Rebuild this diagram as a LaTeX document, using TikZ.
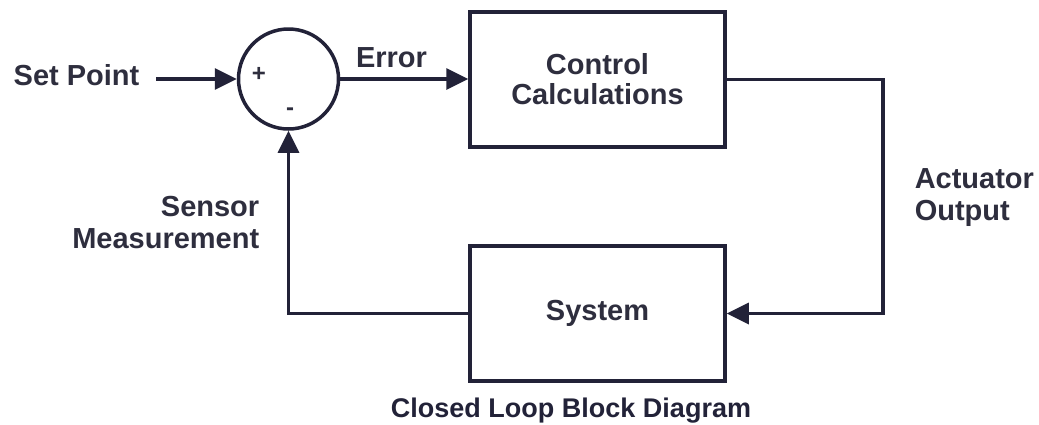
\documentclass[tikz,border=0pt]{standalone}
\usepackage{fontspec}
\setmainfont{Liberation Sans}
\usepackage{tikz}
\usetikzlibrary{positioning,arrows.meta}
\definecolor{ink}{RGB}{34,34,56}
\definecolor{labeltext}{RGB}{46,46,62}

\begin{document}
\begin{tikzpicture}[x=1pt,y=-1pt,line width=3.5pt,>={Triangle[length=22pt,width=21pt]}]
        \tikzstyle{block}=[rectangle,draw=ink,line width=3.5pt,minimum width=255pt,minimum height=135pt,align=center,text=labeltext,font=\fontsize{29}{30}\selectfont\bfseries]
        \tikzstyle{sumjunction}=[circle,draw=ink,line width=3.5pt,minimum size=100pt,inner sep=0pt]
        \tikzstyle{sig}=[inner sep=0pt,text=labeltext,font=\fontsize{29}{32}\selectfont\bfseries]
        \tikzstyle{sign}=[inner sep=0pt,text=labeltext,font=\fontsize{24}{24}\selectfont\bfseries]
        \useasboundingbox (0,0) rectangle (1039,424);
        \node[sumjunction] (sum) at (288.5,79) {};
        \node[sign] (plus) at (259,74) {+};
        \node[sign] (minus) at (290,112) {-};
        \node[block] (ctrl) at (597.5,79.5) {Control\\Calculations};
        \node[block] (sys) at (597.5,313.5) {System};
        \node[sig,anchor=base] (setpoint) at (76.5,85) {Set Point};
        \node[sig,anchor=base] (error) at (391.5,67) {Error};
        \node[sig,align=left,anchor=north west] (actuator) at (913,167) {Actuator\\Output};
        \node[sig,align=right,anchor=north east] (sensor) at (261,194) {Sensor\\Measurement};
        \node[inner sep=0pt,anchor=base,text=ink,font=\fontsize{27}{27}\selectfont\bfseries] (caption) at (571,417) {Closed Loop Block Diagram};
        \coordinate (actcorner) at (883,79.5);
        \draw[draw=ink,->,shorten <=15pt] (setpoint.east |- sum.west) -- (sum.west);
        \draw[draw=ink,->] (sum.east) -- (sum.east -| ctrl.west);
        \draw[draw=ink,->] (ctrl.east) -- (actcorner) |- (sys.east);
        \draw[draw=ink,->] (sys.west) -| (sum.south);
    \end{tikzpicture}
\end{document}
